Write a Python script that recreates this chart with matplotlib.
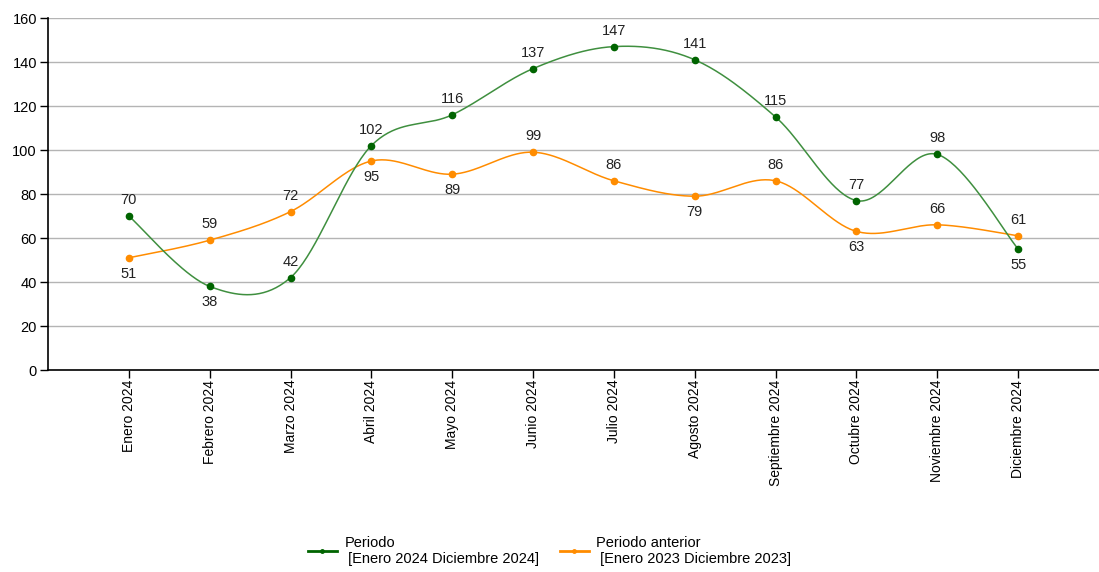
import matplotlib

matplotlib.use("Agg")
import matplotlib.pyplot as plt
import numpy as np
from matplotlib.lines import Line2D

plt.rcParams["font.family"] = ["Liberation Sans", "DejaVu Sans"]

months = ["Enero 2024", "Febrero 2024", "Marzo 2024", "Abril 2024", "Mayo 2024",
          "Junio 2024", "Julio 2024", "Agosto 2024", "Septiembre 2024",
          "Octubre 2024", "Noviembre 2024", "Diciembre 2024"]
periodo = [70, 38, 42, 102, 116, 137, 147, 141, 115, 77, 98, 55]
anterior = [51, 59, 72, 95, 89, 99, 86, 79, 86, 63, 66, 61]
# label placement: +1 above the point, -1 below
periodo_pos = [1, -1, 1, 1, 1, 1, 1, 1, 1, 1, 1, -1]
anterior_pos = [-1, 1, 1, -1, -1, 1, 1, -1, 1, -1, 1, 1]

GREEN = "#006400"
GREEN_LINE = "#3f8f3f"
ORANGE = "#ff8c00"


def cardinal(xs, ys, tension=0.5, n=40):
    """GDI+-style cardinal spline through the points (drawing only)."""
    p = np.column_stack([xs, ys]).astype(float)
    ext = np.vstack([p[0], p, p[-1]])
    out = []
    for i in range(len(p) - 1):
        p0, p1, p2, p3 = ext[i], ext[i + 1], ext[i + 2], ext[i + 3]
        c1 = p1 + tension / 3 * (p2 - p0)
        c2 = p2 - tension / 3 * (p3 - p1)
        t = np.linspace(0, 1, n)[:, None]
        seg = ((1 - t) ** 3) * p1 + 3 * ((1 - t) ** 2) * t * c1 + 3 * (1 - t) * t ** 2 * c2 + t ** 3 * p2
        out.append(seg if i == 0 else seg[1:])
    s = np.vstack(out)
    return s[:, 0], s[:, 1]


x = np.arange(1, len(months) + 1)

fig = plt.figure(figsize=(10.99, 5.72), dpi=100)
ax = fig.add_axes([48 / 1099, (572 - 370) / 572, (1099 - 48) / 1099, (370 - 18) / 572])

for vals, pos, lc, mc in [(anterior, anterior_pos, ORANGE, ORANGE),
                          (periodo, periodo_pos, GREEN_LINE, GREEN)]:
    sx, sy = cardinal(x, vals)
    ax.plot(sx, sy, color=lc, lw=1.1, zorder=3)
    ax.plot(x, vals, "o", color=mc, ms=4.5, zorder=4)
    for xi, v, p in zip(x, vals, pos):
        ax.annotate(str(v), (xi, v), xytext=(0, 16 * p), textcoords="offset pixels",
                    ha="center", va="center", fontsize=10.5, color="#222222", zorder=5)

ax.set_xlim(0, 13)
ax.set_ylim(0, 160)
ax.set_yticks(range(0, 161, 20))
ax.set_xticks(x)
ax.set_xticklabels(months, rotation=90, fontsize=10)
ax.tick_params(axis="y", labelsize=10.5, length=6, width=1, pad=2)
ax.tick_params(axis="x", length=6, width=1, pad=1)
ax.grid(axis="y", color="#b4b4b4", lw=1)
ax.set_axisbelow(True)
for s in ["top", "right"]:
    ax.spines[s].set_visible(False)
for s in ["left", "bottom"]:
    ax.spines[s].set_linewidth(1.2)

handles = [Line2D([], [], color=GREEN, lw=2, marker="o", ms=2.5),
           Line2D([], [], color=ORANGE, lw=2, marker="o", ms=2.5)]
labels = ["Periodo\n [Enero 2024 Diciembre 2024]", "Periodo anterior\n [Enero 2023 Diciembre 2023]"]
fig.legend(handles, labels, loc="lower center", bbox_to_anchor=(0.5, -0.012), ncol=2,
           frameon=False, fontsize=10.5, handlelength=2.0, handletextpad=0.5,
           columnspacing=1.4, labelspacing=0.2)

fig.savefig("out.png", dpi=100)
